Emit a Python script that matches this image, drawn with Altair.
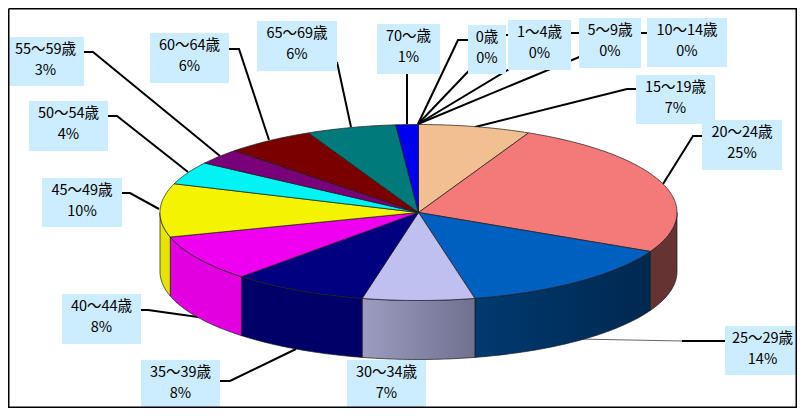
import math
import altair as alt
import pandas as pd

# ---- data ----
AGES = ["0歳", "1〜4歳", "5〜9歳", "10〜14歳", "15〜19歳", "20〜24歳", "25〜29歳", "30〜34歳",
        "35〜39歳", "40〜44歳", "45〜49歳", "50〜54歳", "55〜59歳", "60〜64歳", "65〜69歳", "70〜歳"]
VALUES = [0, 0, 0, 0, 7.0, 25.3, 14.2, 7.0, 8.5, 8.5, 9.8, 4.2, 2.9, 5.6, 5.6, 1.4]
PCT_LABELS = ["0%", "0%", "0%", "0%", "7%", "25%", "14%", "7%", "8%", "8%", "10%", "4%", "3%", "6%", "6%", "1%"]

# ---- styles ----
TOP_COLORS = ["#000000", "#000000", "#000000", "#000000", "#F2BF90", "#F47A7A", "#0060C0", "#C0C0F0",
              "#000080", "#F000F0", "#F4F400", "#00F4F4", "#7A007A", "#7A0000", "#007A7A", "#0000F0"]
def grad(a, b):
    return {"gradient": "linear", "x1": 0, "x2": 1, "y1": 0, "y2": 0,
            "stops": [{"offset": 0, "color": a}, {"offset": 1, "color": b}]}
SIDE_FILLS = {"20〜24歳": "#663333", "25〜29歳": grad("#003A70", "#002850"),
              "30〜34歳": grad("#9C9CC0", "#707090"), "35〜39歳": "#000068",
              "40〜44歳": "#E000E0", "45〜49歳": "#E4E400"}

# ---- layout (page pixels) ----
X0, Y0, X1, Y1 = 8, 8, 797, 408
CX, CY, RX, RY, DEPTH = 418.5, 212.5, 258.5, 88, 59
BOXES = {
    "0歳": (468, 25, 506, 74), "1〜4歳": (508, 20, 571, 70), "5〜9歳": (579, 18, 641, 68),
    "10〜14歳": (647, 18, 727, 67), "15〜19歳": (636, 75, 715, 124), "20〜24歳": (702, 120, 782, 170),
    "25〜29歳": (725, 326, 797, 375), "30〜34歳": (347, 360, 426, 408), "35〜39歳": (141, 360, 220, 408),
    "40〜44歳": (62, 294, 141, 344), "45〜49歳": (42, 178, 122, 227), "50〜54歳": (29, 101, 108, 151),
    "55〜59歳": (8, 37, 84, 86), "60〜64歳": (150, 33, 229, 83), "65〜69歳": (257, 21, 337, 71),
    "70〜歳": (377, 24, 440, 74),
}
TEXT_X = {"25〜29歳": 762.5, "55〜59歳": 45.5}
LEADERS = {
    "0歳": [(418, 124), (458, 40), (468, 40)], "1〜4歳": [(418, 124), (503, 35), (508, 35)],
    "5〜9歳": [(418, 124), (569, 33), (579, 33)], "10〜14歳": [(418, 124), (637, 33), (647, 33)],
    "15〜19歳": [(475, 127), (627, 89), (636, 89)], "20〜24歳": [(663, 184), (693, 136), (702, 136)],
    "25〜29歳b": [(682, 341), (725, 341)],
    "35〜39歳": [(296, 349), (230, 381), (220, 381)], "40〜44歳": [(198, 317), (148, 310), (141, 310)],
    "45〜49歳": [(159, 209), (130, 193), (122, 193)], "50〜54歳": [(188, 172), (117, 116), (108, 116)],
    "55〜59歳": [(220, 156), (93, 52), (84, 52)], "60〜64歳": [(269, 140), (239, 49), (229, 49)],
    "65〜69歳": [(351, 127), (337, 62)], "70〜歳": [(407, 124), (407, 74)],
}
THIN_LEADER = [(577, 339), (682, 341)]
FRAME = [(8.7, 8.7), (796.3, 8.7), (796.3, 407.3), (8.7, 407.3), (8.7, 8.7)]

X = alt.X("x:Q", scale=alt.Scale(domain=[X0, X1], nice=False, zero=False), axis=None)
Y = alt.Y("y:Q", scale=alt.Scale(domain=[Y0, Y1], nice=False, zero=False, reverse=True), axis=None)
ORDER = alt.Order("i:O")


def rim(a, dy=0):
    t = math.radians(a)
    return CX + RX * math.sin(t), CY - RY * math.cos(t) + dy


def arc(a0, a1, dy=0):
    n = max(2, int(abs(a1 - a0)))
    return [rim(a0 + (a1 - a0) * k / n, dy) for k in range(n + 1)]


def poly(points, fill, stroke="#1a1a1a", sw=0.7):
    df = pd.DataFrame(points, columns=["x", "y"]).assign(i=lambda d: range(len(d)))
    return alt.Chart(df).mark_line(fill=fill, stroke=stroke, strokeWidth=sw, strokeJoin="round",
                                   interpolate="linear", clip=True).encode(x=X, y=Y, order=ORDER)


def polyline(points, sw=2.0, color="#000000"):
    df = pd.DataFrame(points, columns=["x", "y"]).assign(i=lambda d: range(len(d)))
    return alt.Chart(df).mark_line(stroke=color, strokeWidth=sw, clip=True).encode(x=X, y=Y, order=ORDER)


layers = [polyline(p) for p in LEADERS.values()]
layers.append(polyline(THIN_LEADER, sw=1.2, color="#666666"))

# slices run clockwise from twelve o'clock
spans, a = [], 0.0
for age, v, col in zip(AGES, VALUES, TOP_COLORS):
    spans.append((age, a, a + v * 3.6, col))
    a += v * 3.6

for age, a0, a1, col in spans:
    if age in SIDE_FILLS:
        s, e = max(a0, 90), min(a1, 270)
        layers.append(poly(arc(s, e) + arc(e, s, DEPTH) + [rim(s)], SIDE_FILLS[age]))
for age, a0, a1, col in spans:
    if a1 > a0:
        layers.append(poly([(CX, CY)] + arc(a0, a1) + [(CX, CY)], col))

rows, texts = [], []
for age, pct in zip(AGES, PCT_LABELS):
    x0, y0, x1, y1 = BOXES[age]
    rows.append({"x": x0, "x2": x1, "y": y0, "y2": y1})
    tx = TEXT_X.get(age, (x0 + x1) / 2)
    texts.append({"x": tx, "y": y0 + 13, "t": age})
    texts.append({"x": tx, "y": y0 + 34, "t": pct})

boxes = alt.Chart(pd.DataFrame(rows)).mark_rect(fill="#CCECFF", clip=True).encode(x=X, x2="x2:Q", y=Y, y2="y2:Q")
labels = alt.Chart(pd.DataFrame(texts)).mark_text(font="Noto Sans CJK JP", fontSize=14.5,
                                                  color="#000000", baseline="middle", align="center").encode(x=X, y=Y, text="t:N")
frame = polyline(FRAME, sw=1.6)

chart = alt.layer(*layers, boxes, labels, frame).properties(
    width=X1 - X0, height=Y1 - Y0, padding=0, autosize=alt.AutoSizeParams(type="none"), background="#FFFFFF"
).configure_view(stroke=None)

chart.save("out.html", embed_options={"renderer": "svg", "actions": False})
